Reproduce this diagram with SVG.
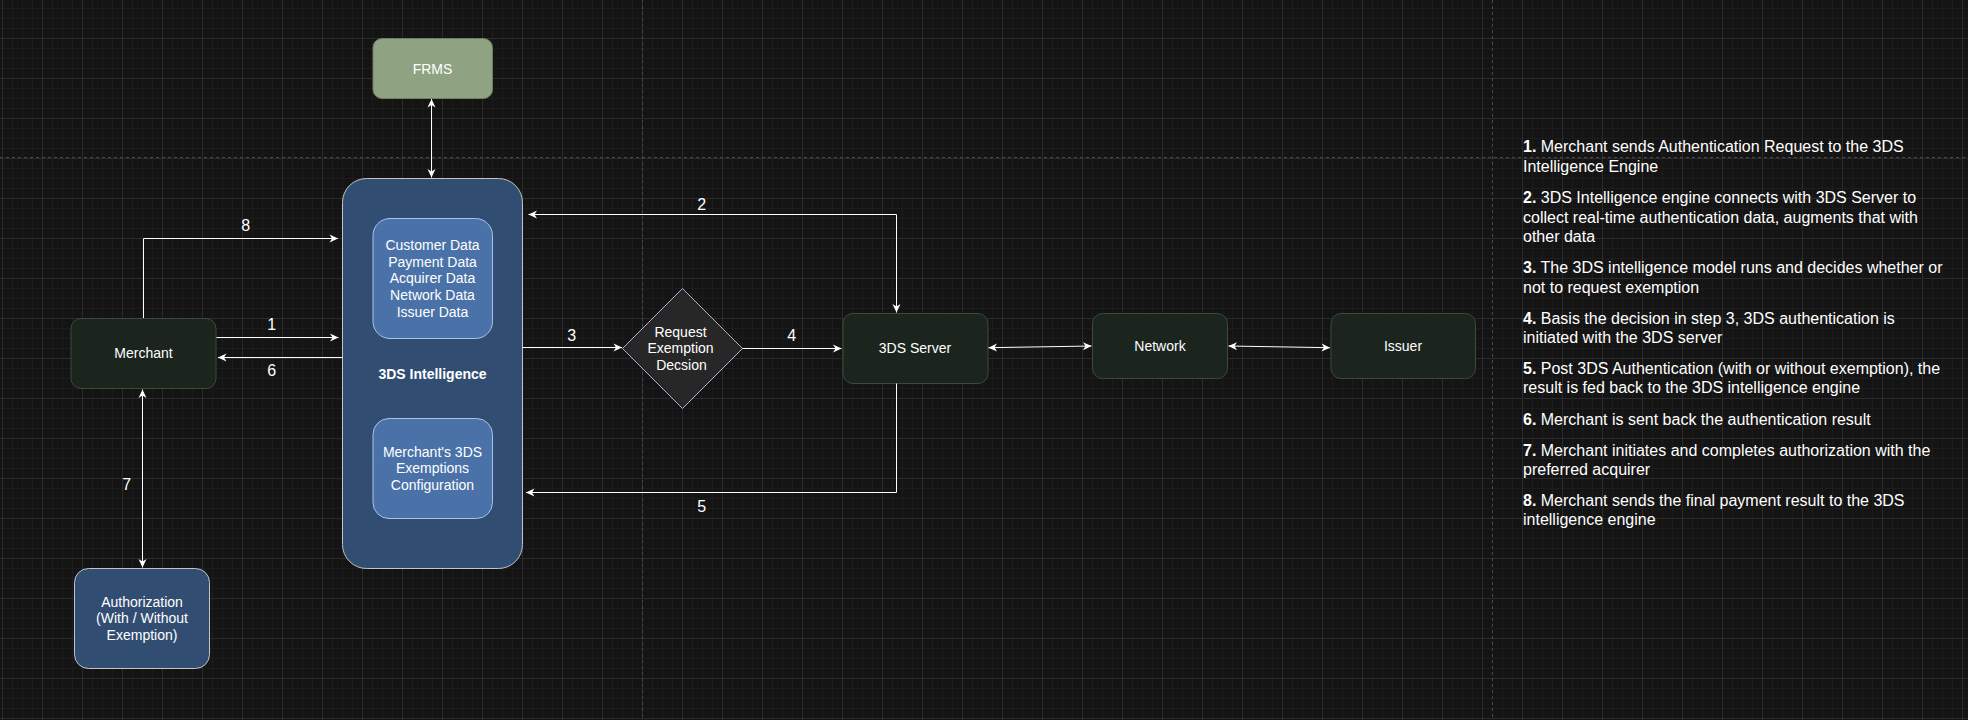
<svg xmlns="http://www.w3.org/2000/svg" width="1968" height="720" viewBox="0 0 1968 720">
  <defs>
    <pattern id="grid" x="2" y="-2" width="40" height="40" patternUnits="userSpaceOnUse">
      <path d="M10.5 0V40M20.5 0V40M30.5 0V40M0 10.5H40M0 20.5H40M0 30.5H40" stroke="#1c1c1c" stroke-width="1" fill="none"/>
      <path d="M0.5 0V40M0 0.5H40" stroke="#2b2b2b" stroke-width="1" fill="none"/>
    </pattern>
    <marker id="arrow" viewBox="-9 -5 10 10" refX="0" refY="0" markerWidth="10" markerHeight="10" markerUnits="userSpaceOnUse" orient="auto-start-reverse">
      <path d="M0 0L-8.5 -4L-6 0L-8.5 4Z" fill="#ffffff"/>
    </marker>
    <style>
      .bg { fill: #141414; }
      .page { stroke: #474747; stroke-width: 1; stroke-dasharray: 3 3; fill: none; }
      .dark { fill: #1b251e; stroke: #3a4a3d; stroke-width: 1; }
      .frms { fill: #8fa382; stroke: #6f7f66; stroke-width: 1; }
      .slate { fill: #314e72; stroke: #c4c4c4; stroke-width: 1; }
      .inner { fill: #4a72a8; stroke: #a9c4eb; stroke-width: 1; }
      .decision { fill: #272727; stroke: #b8aad2; stroke-width: 1; }
      .txt { font-family: "Liberation Sans", Arial, Helvetica, sans-serif; font-size: 14px; fill: #ffffff; text-anchor: middle; }
      .bold { font-weight: bold; }
      .lbl { font-family: "Liberation Sans", Arial, Helvetica, sans-serif; font-size: 16px; fill: #ffffff; text-anchor: middle; }
      .link { fill: none; stroke: #ffffff; stroke-width: 1; }
      .one { marker-end: url(#arrow); }
      .two { marker-start: url(#arrow); marker-end: url(#arrow); }
      .notes { font-family: "Liberation Sans", Arial, Helvetica, sans-serif; font-size: 16px; fill: #ffffff; }
      .notes .n { font-weight: bold; }
    </style>
  </defs>

  <!-- canvas with grid and page boundaries -->
  <rect class="bg" x="0" y="0" width="1968" height="720"/>
  <rect x="0" y="0" width="1968" height="720" fill="url(#grid)"/>
  <path class="page" d="M0 157.5H1968M642.5 0V720M1492.5 0V720"/>

  <!-- nodes -->
  <g id="frms">
    <rect class="frms" x="373" y="38.5" width="119.5" height="60" rx="9"/>
    <text class="txt" x="432.5" y="73.5">FRMS</text>
  </g>

  <g id="intelligence">
    <rect class="slate" x="342.5" y="178.5" width="180" height="390" rx="24"/>
    <text class="txt bold" x="432.5" y="378.5">3DS Intelligence</text>
  </g>

  <g id="data-sources">
    <rect class="inner" x="373" y="218.5" width="119.5" height="120" rx="17"/>
    <text class="txt" x="432.5" y="249.7">Customer Data</text>
    <text class="txt" x="432.5" y="266.5">Payment Data</text>
    <text class="txt" x="432.5" y="283.3">Acquirer Data</text>
    <text class="txt" x="432.5" y="300.1">Network Data</text>
    <text class="txt" x="432.5" y="316.9">Issuer Data</text>
  </g>

  <g id="exemption-config">
    <rect class="inner" x="373" y="418.5" width="119.5" height="100" rx="16"/>
    <text class="txt" x="432.5" y="456.5">Merchant's 3DS</text>
    <text class="txt" x="432.5" y="473.3">Exemptions</text>
    <text class="txt" x="432.5" y="490.1">Configuration</text>
  </g>

  <g id="merchant">
    <rect class="dark" x="71" y="318.5" width="145" height="70" rx="10"/>
    <text class="txt" x="143.5" y="358.3">Merchant</text>
  </g>

  <g id="authorization">
    <rect class="slate" x="74.5" y="568.5" width="135" height="100" rx="14"/>
    <text class="txt" x="142" y="606.5">Authorization</text>
    <text class="txt" x="142" y="623.3">(With / Without</text>
    <text class="txt" x="142" y="640.1">Exemption)</text>
  </g>

  <g id="decision">
    <path class="decision" d="M682.5 288.5L742.5 348.5L682.5 408.5L622.5 348.5Z"/>
    <text class="txt" x="680.5" y="336.5">Request</text>
    <text class="txt" x="680.5" y="353.3">Exemption</text>
    <text class="txt" x="681.5" y="370.1">Decsion</text>
  </g>

  <g id="server">
    <rect class="dark" x="843" y="313.5" width="145" height="70" rx="10"/>
    <text class="txt" x="915" y="353.3">3DS Server</text>
  </g>

  <g id="network">
    <rect class="dark" x="1092.5" y="313.5" width="135" height="65" rx="10"/>
    <text class="txt" x="1160" y="351">Network</text>
  </g>

  <g id="issuer">
    <rect class="dark" x="1331" y="313.5" width="144.5" height="65" rx="10"/>
    <text class="txt" x="1403" y="351">Issuer</text>
  </g>

  <!-- connectors -->
  <g id="connectors">
    <path class="link two" d="M431.5 99V177.5"/>
    <path class="link one" d="M143.5 318V238.5H338"/>
    <path class="link one" d="M216.5 337.5H338.5"/>
    <path class="link one" d="M342.5 357.5H218"/>
    <path class="link two" d="M142.5 389.5V567.5"/>
    <path class="link two" d="M528.5 214.5H896.5V312.5"/>
    <path class="link one" d="M522.5 347.5H622"/>
    <path class="link one" d="M742.5 348.5H841.5"/>
    <path class="link one" d="M896.5 383.5V492.5H526"/>
    <path class="link two" d="M988.5 347.7L1091.5 346"/>
    <path class="link two" d="M1228.5 346L1330 347.7"/>

    <text class="lbl" x="245.7" y="230.5">8</text>
    <text class="lbl" x="271.7" y="330">1</text>
    <text class="lbl" x="271.7" y="375.5">6</text>
    <text class="lbl" x="126.7" y="489.8">7</text>
    <text class="lbl" x="701.7" y="209.8">2</text>
    <text class="lbl" x="571.7" y="340.8">3</text>
    <text class="lbl" x="791.7" y="340.8">4</text>
    <text class="lbl" x="701.7" y="511.8">5</text>
  </g>

  <!-- step descriptions -->
  <g id="steps" class="notes">
    <text x="1523" y="152.3"><tspan class="n">1.</tspan> Merchant sends Authentication Request to the 3DS</text>
    <text x="1523" y="171.7">Intelligence Engine</text>
    <text x="1523" y="203.3"><tspan class="n">2.</tspan> 3DS Intelligence engine connects with 3DS Server to</text>
    <text x="1523" y="222.8">collect real-time authentication data, augments that with</text>
    <text x="1523" y="242.2">other data</text>
    <text x="1523" y="273.4"><tspan class="n">3.</tspan> The 3DS intelligence model runs and decides whether or</text>
    <text x="1523" y="292.6">not to request exemption</text>
    <text x="1523" y="323.6"><tspan class="n">4.</tspan> Basis the decision in step 3, 3DS authentication is</text>
    <text x="1523" y="342.9">initiated with the 3DS server</text>
    <text x="1523" y="374.2"><tspan class="n">5.</tspan> Post 3DS Authentication (with or without exemption), the</text>
    <text x="1523" y="393.4">result is fed back to the 3DS intelligence engine</text>
    <text x="1523" y="424.5"><tspan class="n">6.</tspan> Merchant is sent back the authentication result</text>
    <text x="1523" y="455.7"><tspan class="n">7.</tspan> Merchant initiates and completes authorization with the</text>
    <text x="1523" y="474.9">preferred acquirer</text>
    <text x="1523" y="506"><tspan class="n">8.</tspan> Merchant sends the final payment result to the 3DS</text>
    <text x="1523" y="525.2">intelligence engine</text>
  </g>
</svg>
